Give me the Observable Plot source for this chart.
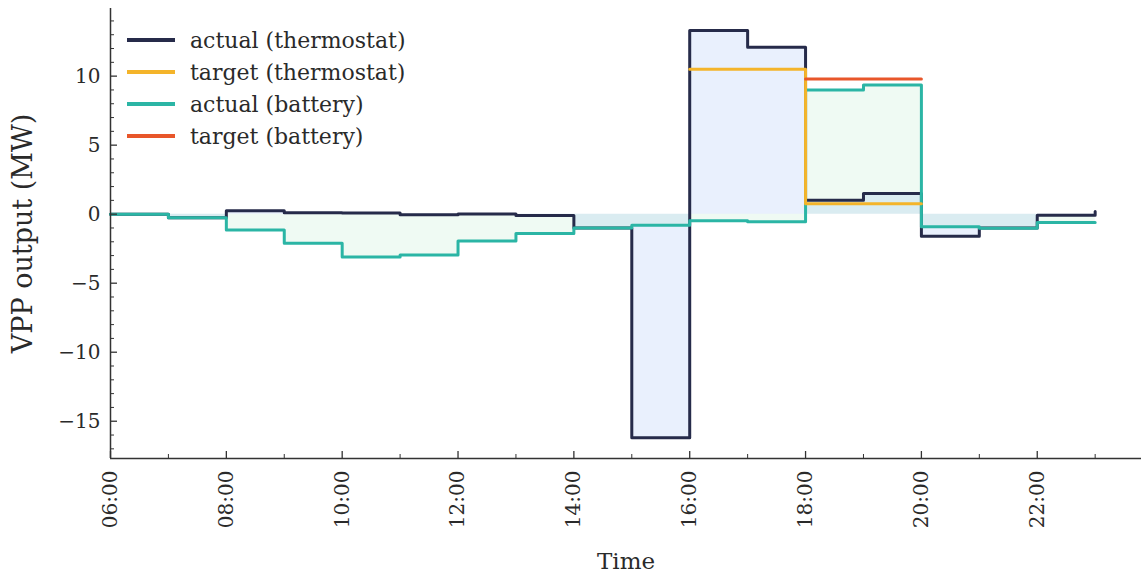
<!DOCTYPE html>
<html>
<head>
<meta charset="utf-8">
<script src="https://cdn.jsdelivr.net/npm/d3@7"></script>
<script src="https://cdn.jsdelivr.net/npm/@observablehq/plot@0.6"></script>
<style>
  body { margin: 0; background: #fff; }
  #wrap { position: relative; width: 1141px; height: 575px; }
  #legend { position: absolute; left: 127px; top: 24px; font-family: "DejaVu Serif", serif; font-size: 22px; color: #2a2a2a; }
  #legend .row { display: flex; align-items: center; height: 32px; }
  #legend .sw { width: 48px; height: 4px; margin-right: 15px; }
</style>
</head>
<body>
<div id="wrap">
  <div id="chart"></div>
  <div id="legend"></div>
</div>
<script>
// Hours of day (step start times)
const hours = [6, 7, 8, 9, 10, 11, 12, 13, 14, 15, 16, 17, 18, 19, 20, 21, 22, 23];
const actualThermostat = [0, -0.25, 0.25, 0.1, 0.08, -0.05, 0.02, -0.1, -1.0, -16.2, 13.3, 12.1, 1.0, 1.5, -1.6, -1.0, -0.08, 0.2];
const actualBattery = [0, -0.25, -1.15, -2.1, -3.1, -2.95, -1.95, -1.4, -1.0, -0.8, -0.48, -0.55, 9.0, 9.35, -0.92, -1.02, -0.6, -0.6];
const targetThermostatHours = [16, 17, 18, 19, 20];
const targetThermostat = [10.5, 10.5, 0.75, 0.75, 0.75];
const targetBatteryHours = [18, 19, 20];
const targetBattery = [9.8, 9.8, 9.8];

const seriesNames = ["actual (thermostat)", "target (thermostat)", "actual (battery)", "target (battery)"];
const seriesColors = ["#262b4a", "#f4b42a", "#2bb5a5", "#e8562a"];

const majorX = [6, 8, 10, 12, 14, 16, 18, 20, 22];
const minorX = [7, 9, 11, 13, 15, 17, 19, 21, 23];
const majorY = [-15, -10, -5, 0, 5, 10];
const minorY = d3.range(-17, 15).filter(v => v % 5 !== 0);

const xDomain = [6, 23.8];
const yDomain = [-17.7, 14.9];

const W = 1141, H = 575, ML = 110, MR = 0, MT = 8, MB = 117;
const FW = W - ML - MR, FH = H - MT - MB;

const fmtHour = h => String(h).padStart(2, "0") + ":00";

const thermo = hours.map((h, i) => ({h, v: actualThermostat[i]}));
const batt = hours.map((h, i) => ({h, v: actualBattery[i]}));
const tThermo = targetThermostatHours.map((h, i) => ({h, v: targetThermostat[i]}));
const tBatt = targetBatteryHours.map((h, i) => ({h, v: targetBattery[i]}));

const axisColor = "#333";

const chart = Plot.plot({
  width: W,
  height: H,
  marginLeft: ML,
  marginRight: MR,
  marginTop: MT,
  marginBottom: MB,
  style: {fontFamily: "DejaVu Serif, serif", fontSize: "20px", color: "#2a2a2a", background: "transparent"},
  x: {domain: xDomain},
  y: {domain: yDomain},
  marks: [
    Plot.areaY(thermo, {x: "h", y1: 0, y2: "v", curve: "step-after", fill: "#4a80f0", fillOpacity: 0.12}),
    Plot.areaY(batt, {x: "h", y1: 0, y2: "v", curve: "step-after", fill: "#30c060", fillOpacity: 0.08}),
    Plot.line(thermo, {x: "h", y: "v", curve: "step-after", stroke: seriesColors[0], strokeWidth: 3}),
    Plot.line(batt, {x: "h", y: "v", curve: "step-after", stroke: seriesColors[2], strokeWidth: 3}),
    Plot.line(tThermo, {x: "h", y: "v", curve: "step-after", stroke: seriesColors[1], strokeWidth: 3}),
    Plot.line(tBatt, {x: "h", y: "v", curve: "step-after", stroke: seriesColors[3], strokeWidth: 3}),
    // inward ticks
    Plot.tickY(majorY, {y: d => d, insetRight: FW - 7, stroke: axisColor, strokeWidth: 1.3}),
    Plot.tickY(minorY, {y: d => d, insetRight: FW - 4, stroke: axisColor, strokeWidth: 1}),
    Plot.tickX(majorX, {x: d => d, insetTop: FH - 7, stroke: axisColor, strokeWidth: 1.3}),
    Plot.tickX(minorX, {x: d => d, insetTop: FH - 4, stroke: axisColor, strokeWidth: 1}),
    Plot.axisY({ticks: majorY, tickSize: 0, tickPadding: 10, tickFormat: d => d < 0 ? "\u2212" + Math.abs(d) : String(d), fill: "#2a2a2a", label: null}),
    Plot.axisY({ticks: [], tickSize: 0, label: "VPP output (MW)", labelAnchor: "center", labelArrow: "none", labelOffset: 98, fontSize: 27, fill: "#2a2a2a"}),
    Plot.axisX({ticks: majorX, tickSize: 0, tickPadding: 12, tickRotate: -90, tickFormat: fmtHour, fill: "#2a2a2a", label: null}),
    Plot.axisX({ticks: [], tickSize: 0, label: "Time", labelAnchor: "center", labelArrow: "none", labelOffset: 110, fontSize: 23, fill: "#2a2a2a"}),
    Plot.ruleX([xDomain[0]], {stroke: axisColor, strokeWidth: 1.5}),
    Plot.ruleY([yDomain[0]], {stroke: axisColor, strokeWidth: 1.5})
  ]
});
document.getElementById("chart").appendChild(chart);

const legend = document.getElementById("legend");
seriesNames.forEach((name, i) => {
  const row = document.createElement("div");
  row.className = "row";
  const sw = document.createElement("div");
  sw.className = "sw";
  sw.style.background = seriesColors[i];
  const t = document.createElement("span");
  t.textContent = name;
  row.appendChild(sw);
  row.appendChild(t);
  legend.appendChild(row);
});
</script>
</body>
</html>
